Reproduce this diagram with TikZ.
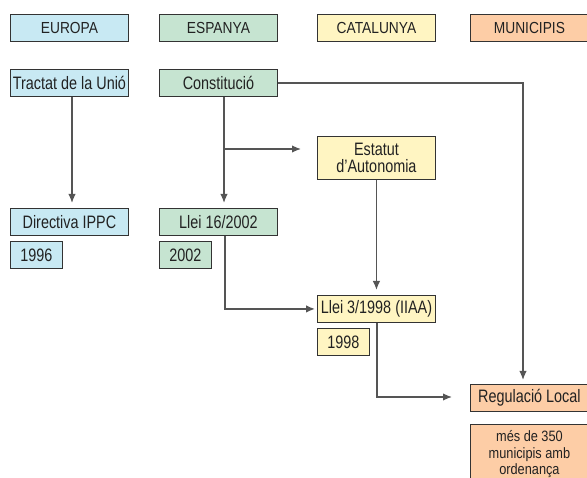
\documentclass[tikz,border=0pt]{standalone}
\usepackage{fontspec}
\setmainfont{Liberation Sans}[FakeStretch=0.8]
\newfontfamily\hdrfont{Liberation Sans}[FakeStretch=0.86]
\newfontfamily\smallfont{Liberation Sans}[FakeStretch=0.85]
\usetikzlibrary{arrows.meta}
\definecolor{cblue}{HTML}{C8E9F3}
\definecolor{cgreen}{HTML}{C6E4D1}
\definecolor{cyellow}{HTML}{FFF5C2}
\definecolor{corange}{HTML}{FDCDA6}
\definecolor{cline}{HTML}{555555}
\definecolor{ctext}{HTML}{222222}
\tikzset{
  box/.style={draw=black!80, line width=0.9pt, minimum height=27pt, inner sep=1pt, text=ctext, font=\fontsize{18}{17.5}\selectfont, anchor=north west},
  wbox/.style={box, minimum width=118pt},
  hbox/.style={wbox, font=\hdrfont\fontsize{16}{17}\selectfont},
  ybox/.style={box, minimum width=52pt},
  conn/.style={draw=cline, line width=1.4pt, -{Latex[length=9pt,width=7.5pt]}},
  line/.style={draw=cline, line width=1.4pt}
}
\begin{document}
\begin{tikzpicture}[x=1pt,y=-1pt]
\useasboundingbox (0,0) rectangle (587,478);
% headers
\node[hbox, fill=cblue] (h1) at (10,14) {EUROPA};
\node[hbox, fill=cgreen] (h2) at (159,14) {ESPANYA};
\node[hbox, fill=cyellow] (h3) at (317,14) {CATALUNYA};
\node[hbox, fill=corange] (h4) at (470,14) {MUNICIPIS};
% row 2
\node[wbox, fill=cblue] (tract) at (10,69) {Tractat de la Unió};
\node[wbox, fill=cgreen] (const) at (159,69) {Constitució};
\node[wbox, fill=cyellow, minimum height=43pt, align=center] (estat) at (317,136) {Estatut\\d’Autonomia};
% row 3
\node[wbox, fill=cblue] (dir) at (10,208) {Directiva IPPC};
\node[ybox, fill=cblue] (y96) at (10,241) {1996};
\node[wbox, fill=cgreen] (llei16) at (159,208) {Llei 16/2002};
\node[ybox, fill=cgreen] (y02) at (159,241) {2002};
\node[wbox, fill=cyellow] (llei3) at (317,295) {Llei 3/1998 (IIAA)};
\node[ybox, fill=cyellow] (y98) at (317,328) {1998};
\node[wbox, fill=corange] (reg) at (470,384) {Regulació Local};
\node[wbox, fill=corange, minimum height=60pt, align=center, font=\smallfont\fontsize{15}{16.5}\selectfont, anchor=north west] (mes) at (470,424) {més de 350\\municipis amb\\ordenança};
% connectors
\coordinate (t1) at (72,0);
\coordinate (b1) at (224,149);
\coordinate (b1e) at (301,149);
\coordinate (c1) at (523,84);
\coordinate (l3) at (377,397);
\coordinate (l3e) at (452,397);
\coordinate (s16) at (225,0);
\draw[conn, shorten >=5pt] (tract.south -| t1) -- (dir.north -| t1);
\draw[conn, shorten >=5pt] (const.south -| b1) -- (llei16.north -| b1);
\draw[conn] (b1) -- (b1e);
\draw[conn, shorten >=5pt] (estat.south) -- (llei3.north);
\draw[conn, shorten >=2pt] (llei16.south -| s16) |- (llei3.west);
\draw[conn, shorten >=4pt] (const.east) -| (reg.north -| c1);
\draw[conn] (llei3.south -| l3) |- (l3e);
\end{tikzpicture}
\end{document}
